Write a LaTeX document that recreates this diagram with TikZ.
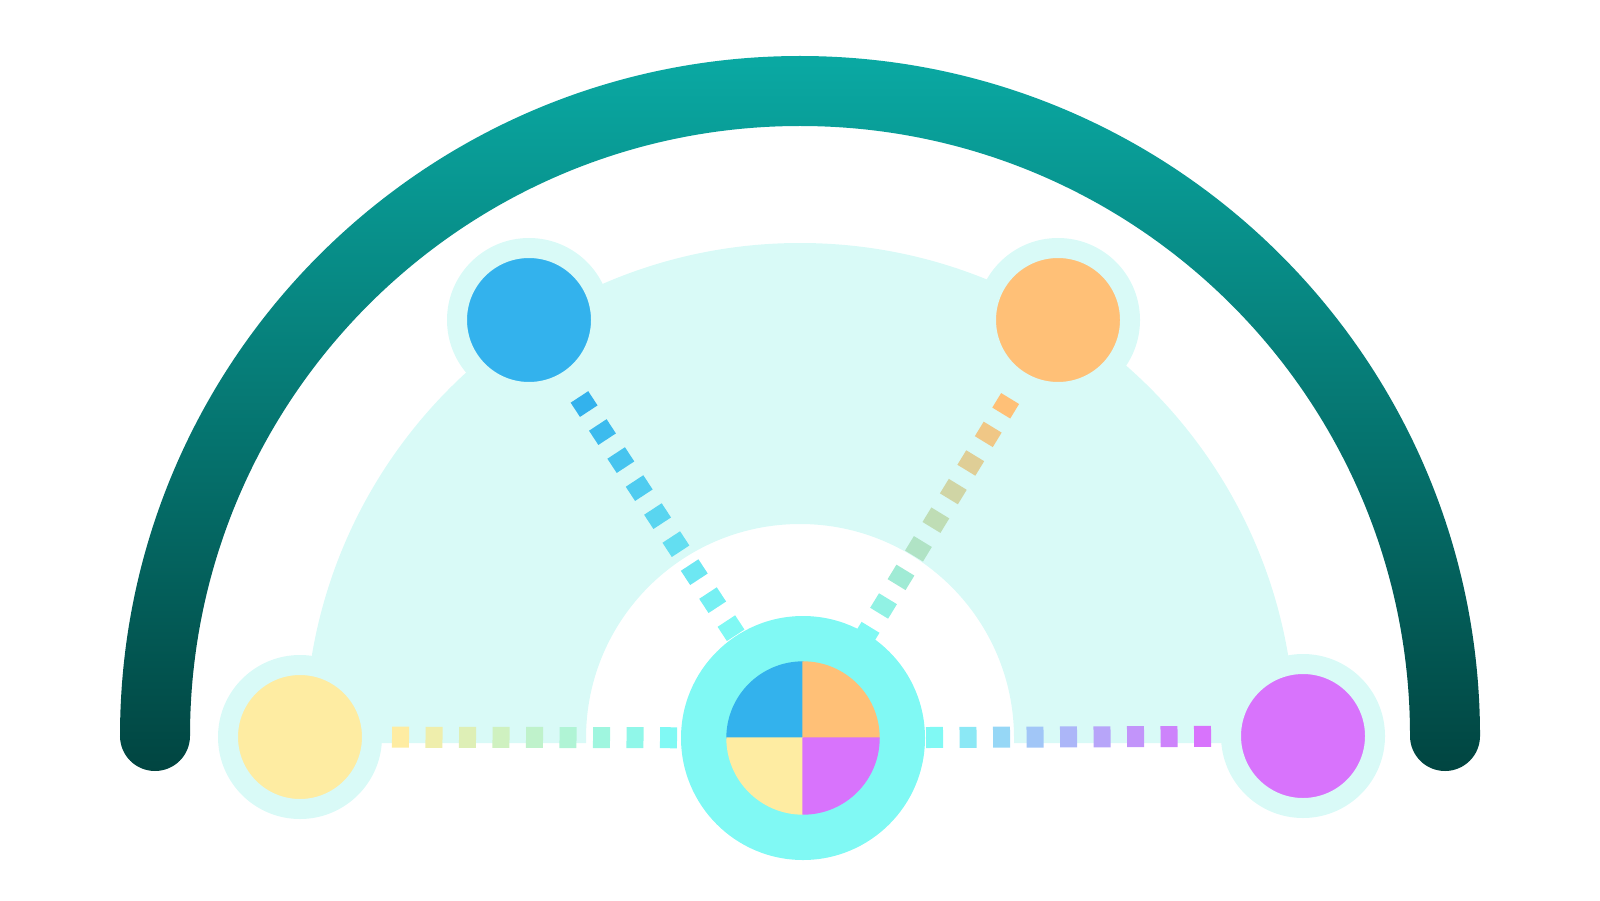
\documentclass[tikz,border=0pt]{standalone}
\usepackage{tikz}
\usepackage{xcolor}
\usetikzlibrary{calc}

\definecolor{arctop}{HTML}{0AA9A3}
\definecolor{arcbot}{HTML}{014541}
\definecolor{halo}{HTML}{D9FAF7}
\definecolor{hubcyan}{HTML}{80F9F4}
\definecolor{cblue}{HTML}{33B2ED}
\definecolor{corange}{HTML}{FFC077}
\definecolor{cyellow}{HTML}{FEECA2}
\definecolor{cmagenta}{HTML}{D873FC}

\tikzset{
	sat/.style={circle, inner sep=0pt, minimum size=1.44cm, draw=halo, line width=0.2cm},
	dashseg/.style={line width=0.21cm}
}

\begin{document}
\begin{tikzpicture}
	\useasboundingbox (0,0) rectangle (16,9);
	\coordinate (c) at (8,1.62);
	\coordinate (o) at (8,1.64);
	% light band
	\fill[halo] (c) ++(-4.95,-0.05) -- ++(0,0.05) arc[start angle=180, end angle=0, radius=4.95]
		-- ++(0,-0.05) -- ++(-2.81,0) -- ++(0,0.05) arc[start angle=0, end angle=180, radius=2.14]
		-- ++(0,-0.05) -- cycle;
	% big arc
	\shade[top color=arctop, bottom color=arcbot] (o) ++(-6.8,0)
		arc[start angle=180, end angle=0, radius=6.8]
		arc[start angle=0, end angle=-180, radius=0.35]
		arc[start angle=0, end angle=180, radius=6.1]
		arc[start angle=0, end angle=-180, radius=0.35] -- cycle;
	% nodes
	\node[sat, fill=cblue] (blu) at (5.29,5.80) {};
	\node[sat, fill=corange] (ora) at (10.58,5.80) {};
	\node[sat, fill=cyellow] (yel) at (3.00,1.63) {};
	\node[sat, fill=cmagenta] (mag) at (13.03,1.64) {};
	\node[circle, fill=hubcyan, minimum size=2.44cm, inner sep=0pt] (hub) at (8.03,1.62) {};
	\foreach \a/\col in {90/cblue, 0/corange, 180/cyellow, 270/cmagenta} {
		\filldraw[fill=\col, draw=\col, line width=0.4pt] (hub.center) -- ++(\a:0.76) arc[start angle=\a, delta angle=90, radius=0.76] -- cycle;
	};
	% dashed links
	\foreach \n/\col in {blu/cblue, ora/corange, yel/cyellow, mag/cmagenta} {
		\foreach \i in {0, ..., 8} {
			\pgfmathsetmacro{\da}{0.92+0.335*\i}
			\pgfmathsetmacro{\db}{\da+0.17}
			\pgfmathtruncatemacro{\pc}{100*\i/8}
			\draw[dashseg, color=hubcyan!\pc!\col] ($(\n)!\da cm!(hub)$) -- ($(\n)!\db cm!(hub)$);
		};
	};
\end{tikzpicture}
\end{document}
